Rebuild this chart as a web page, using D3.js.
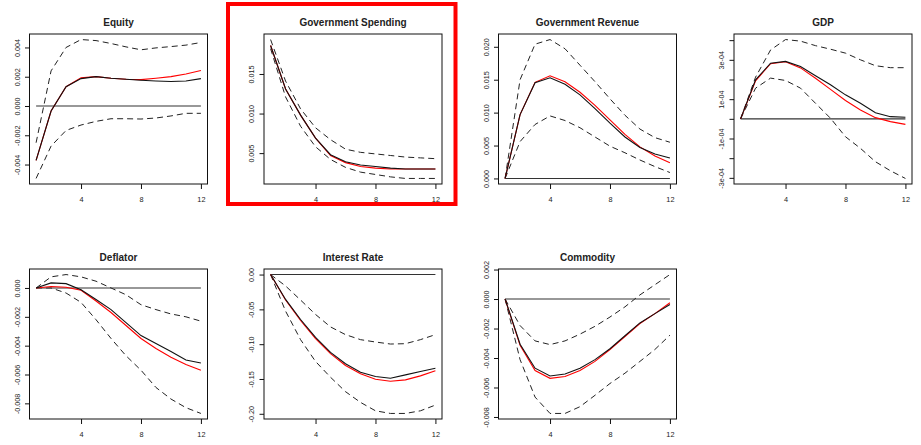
<!DOCTYPE html>
<html>
<head>
<meta charset="utf-8">
<script src="https://cdn.jsdelivr.net/npm/d3@7"></script>
<style>
  html, body { margin: 0; padding: 0; background: #fff; }
  svg { display: block; font-family: "Liberation Sans", Arial, sans-serif; }
</style>
</head>
<body>
<svg id="chart" width="921" height="445"></svg>
<script>
// Impulse responses over 12 horizons: point response (black), alternative (red),
// and lower/upper bands (dashed) for each variable.
const horizons = [1, 2, 3, 4, 5, 6, 7, 8, 9, 10, 11, 12];
const titles = ["Equity", "Government Spending", "Government Revenue", "GDP",
                "Deflator", "Interest Rate", "Commodity"];
const xTicks = [4, 8, 12];

const equityMain  = [-0.00372, -0.00034, 0.00132, 0.00187, 0.00201, 0.00190, 0.00183, 0.00176, 0.00171, 0.00167, 0.00171, 0.00187];
const equityAlt   = [-0.00372, -0.00034, 0.00132, 0.00192, 0.00201, 0.00190, 0.00183, 0.00180, 0.00190, 0.00201, 0.00219, 0.00242];
const equityLower = [-0.00495, -0.00274, -0.00167, -0.00130, -0.00105, -0.00087, -0.00087, -0.00089, -0.00082, -0.00068, -0.00050, -0.00050];
const equityUpper = [-0.00251, 0.00240, 0.00400, 0.00454, 0.00447, 0.00427, 0.00404, 0.00384, 0.00397, 0.00406, 0.00416, 0.00434];

const spendMain  = [0.0186, 0.0131, 0.0098, 0.0069, 0.0048, 0.0039, 0.0035, 0.0033, 0.0031, 0.0030, 0.0030, 0.0030];
const spendAlt   = [0.0186, 0.0131, 0.0098, 0.0069, 0.0047, 0.0038, 0.0033, 0.0031, 0.0030, 0.0030, 0.0030, 0.0030];
const spendLower = [0.0182, 0.0121, 0.0084, 0.0058, 0.0042, 0.0032, 0.0026, 0.0023, 0.0020, 0.0018, 0.0018, 0.0018];
const spendUpper = [0.01935, 0.0141, 0.0106, 0.0082, 0.0067, 0.0055, 0.0051, 0.0049, 0.0047, 0.0045, 0.0044, 0.0043];

const revenueMain  = [0, 0.0097, 0.01455, 0.0153, 0.0143, 0.0127, 0.0106, 0.0084, 0.0063, 0.0047, 0.0037, 0.0031];
const revenueAlt   = [0, 0.0097, 0.0146, 0.0156, 0.0147, 0.0131, 0.0111, 0.0089, 0.0067, 0.0048, 0.0034, 0.0024];
const revenueLower = [0, 0.0056, 0.0082, 0.0095, 0.0088, 0.0077, 0.0063, 0.0049, 0.0039, 0.0028, 0.0018, 0.0009];
const revenueUpper = [0, 0.0150, 0.0204, 0.0211, 0.0197, 0.0172, 0.0147, 0.0121, 0.0096, 0.0075, 0.0062, 0.0055];

const gdpMain  = [0, 1.98e-4, 2.83e-4, 2.92e-4, 2.66e-4, 2.19e-4, 1.73e-4, 1.22e-4, 0.79e-4, 0.31e-4, 0.11e-4, 0.08e-4];
const gdpAlt   = [0, 1.93e-4, 2.80e-4, 2.90e-4, 2.59e-4, 2.06e-4, 1.50e-4, 0.93e-4, 0.45e-4, 0.06e-4, -0.14e-4, -0.28e-4];
const gdpLower = [0, 1.56e-4, 2.07e-4, 1.95e-4, 1.56e-4, 0.79e-4, 0.03e-4, -0.91e-4, -1.50e-4, -2.18e-4, -2.64e-4, -3.03e-4];
const gdpUpper = [0, 2.12e-4, 3.50e-4, 4.03e-4, 3.95e-4, 3.72e-4, 3.54e-4, 3.34e-4, 3.00e-4, 2.70e-4, 2.60e-4, 2.60e-4];

const deflatorMain  = [0, 0.00035, 0.00030, -0.00012, -0.00080, -0.00150, -0.00240, -0.00330, -0.00385, -0.00440, -0.00500, -0.00520];
const deflatorAlt   = [0, 0.00010, 0.00005, -0.00016, -0.00090, -0.00170, -0.00260, -0.00350, -0.00420, -0.00480, -0.00530, -0.00570];
const deflatorLower = [0, 0, -0.00035, -0.00100, -0.00220, -0.00350, -0.00470, -0.00570, -0.00690, -0.00770, -0.00830, -0.00870];
const deflatorUpper = [0, 0.00077, 0.00093, 0.00077, 0.00047, 0, -0.00047, -0.00116, -0.00150, -0.00180, -0.00200, -0.00230];

const rateMain  = [0, -0.0357, -0.0646, -0.0901, -0.1118, -0.1282, -0.1402, -0.1465, -0.1489, -0.1441, -0.1393, -0.1345];
const rateAlt   = [0, -0.0366, -0.0660, -0.0920, -0.1137, -0.1306, -0.1426, -0.1503, -0.1532, -0.1513, -0.1455, -0.1383];
const rateLower = [0, -0.0525, -0.0935, -0.1248, -0.1475, -0.1682, -0.1836, -0.1957, -0.1995, -0.1995, -0.1957, -0.1875];
const rateUpper = [0, -0.0164, -0.0366, -0.0573, -0.0752, -0.0863, -0.0935, -0.0969, -0.0998, -0.0993, -0.0935, -0.0863];

const commodityMain  = [0, -0.00307, -0.00469, -0.00522, -0.00508, -0.00469, -0.00411, -0.00337, -0.00249, -0.00162, -0.00099, -0.00037];
const commodityAlt   = [0, -0.00314, -0.00485, -0.00538, -0.00526, -0.00485, -0.00423, -0.00342, -0.00254, -0.00166, -0.00099, -0.00025];
const commodityLower = [0, -0.00411, -0.00665, -0.00776, -0.00776, -0.00730, -0.00653, -0.00573, -0.00503, -0.00423, -0.00342, -0.00245];
const commodityUpper = [0, -0.00180, -0.00284, -0.00309, -0.00284, -0.00238, -0.00185, -0.00122, -0.00053, 0.00028, 0.00097, 0.00166];

// y-axis ticks and their labels ("" = tick without label)
const equityTicks = [-0.004, -0.002, 0, 0.002, 0.004];
const equityTickLabels = ["-0.004", "-0.002", "0.000", "0.002", "0.004"];
const spendTicks = [0.005, 0.010, 0.015];
const spendTickLabels = ["0.005", "0.010", "0.015"];
const revenueTicks = [0, 0.005, 0.010, 0.015, 0.020];
const revenueTickLabels = ["0.000", "0.005", "0.010", "0.015", "0.020"];
const gdpTicks = [-3e-4, -2e-4, -1e-4, 0, 1e-4, 2e-4, 3e-4, 4e-4];
const gdpTickLabels = ["-3e-04", "", "-1e-04", "", "1e-04", "", "3e-04", ""];
const deflatorTicks = [-0.008, -0.006, -0.004, -0.002, 0];
const deflatorTickLabels = ["-0.008", "-0.006", "-0.004", "-0.002", "0.000"];
const rateTicks = [-0.20, -0.15, -0.10, -0.05, 0];
const rateTickLabels = ["-0.20", "-0.15", "-0.10", "-0.05", "0.00"];
const commodityTicks = [-0.008, -0.006, -0.004, -0.002, 0, 0.002];
const commodityTickLabels = ["-0.008", "-0.006", "-0.004", "-0.002", "0.000", "0.002"];

const panels = [
  { title: titles[0], main: equityMain, alt: equityAlt, lo: equityLower, hi: equityUpper, ticks: equityTicks, labels: equityTickLabels },
  { title: titles[1], main: spendMain, alt: spendAlt, lo: spendLower, hi: spendUpper, ticks: spendTicks, labels: spendTickLabels },
  { title: titles[2], main: revenueMain, alt: revenueAlt, lo: revenueLower, hi: revenueUpper, ticks: revenueTicks, labels: revenueTickLabels },
  { title: titles[3], main: gdpMain, alt: gdpAlt, lo: gdpLower, hi: gdpUpper, ticks: gdpTicks, labels: gdpTickLabels },
  { title: titles[4], main: deflatorMain, alt: deflatorAlt, lo: deflatorLower, hi: deflatorUpper, ticks: deflatorTicks, labels: deflatorTickLabels },
  { title: titles[5], main: rateMain, alt: rateAlt, lo: rateLower, hi: rateUpper, ticks: rateTicks, labels: rateTickLabels },
  { title: titles[6], main: commodityMain, alt: commodityAlt, lo: commodityLower, hi: commodityUpper, ticks: commodityTicks, labels: commodityTickLabels }
];

const svg = d3.select("#chart");
svg.append("rect").attr("width", 921).attr("height", 445).attr("fill", "#fff");

const plotW = 178, plotH = 150;
const colX = [29.5, 264, 498.5, 734];
const rowY = [34, 269];

// pad a [min, max] range by 4% on each side
function padded(lo, hi) {
  const d = (hi - lo) * 0.04;
  return [lo - d, hi + d];
}

panels.forEach((p, i) => {
  const left = colX[i % 4], top = rowY[Math.floor(i / 4)];
  const g = svg.append("g").attr("transform", `translate(${left},${top})`);

  const x = d3.scaleLinear().domain(padded(1, 12)).range([0, plotW]);
  const all = p.main.concat(p.alt, p.lo, p.hi);
  const y = d3.scaleLinear().domain(padded(d3.min(all), d3.max(all))).range([plotH, 0]);

  const line = d3.line().x((d, k) => x(horizons[k])).y(d => y(d));

  // bands
  [p.lo, p.hi].forEach(s => {
    g.append("path").attr("d", line(s)).attr("fill", "none")
      .attr("stroke", "#222").attr("stroke-width", 1).attr("stroke-dasharray", "6,4");
  });
  // zero reference
  g.append("line")
    .attr("x1", x(1)).attr("x2", x(12)).attr("y1", y(0)).attr("y2", y(0))
    .attr("stroke", "#333").attr("stroke-width", 1.1);
  g.select("line").attr("display", y(0) >= 0 && y(0) <= plotH ? null : "none");
  // responses
  g.append("path").attr("d", line(p.alt)).attr("fill", "none")
    .attr("stroke", "#ff0000").attr("stroke-width", 1.1);
  g.append("path").attr("d", line(p.main)).attr("fill", "none")
    .attr("stroke", "#111").attr("stroke-width", 1.1);

  // frame
  g.append("rect").attr("x", 0).attr("y", 0).attr("width", plotW).attr("height", plotH)
    .attr("fill", "none").attr("stroke", "#111").attr("stroke-width", 1);

  // x axis
  const xa = g.append("g").attr("transform", `translate(0,${plotH})`)
    .call(d3.axisBottom(x).tickValues(xTicks).tickSize(5).tickPadding(3).tickFormat(d3.format("d")));
  xa.select(".domain").remove();
  xa.selectAll("line").attr("stroke", "#111");
  xa.selectAll("text").attr("font-size", "7.3px").attr("fill", "#222").attr("dy", null).attr("y", 18);

  // y axis with rotated labels
  const ya = g.append("g")
    .call(d3.axisLeft(y).tickValues(p.ticks).tickSize(4.5).tickFormat((d, k) => p.labels[k]));
  ya.select(".domain").remove();
  ya.selectAll("line").attr("stroke", "#111");
  ya.selectAll("text")
    .attr("transform", "rotate(-90)")
    .attr("x", 0).attr("y", -10).attr("dy", null)
    .attr("text-anchor", "middle")
    .attr("font-size", "7.2px").attr("fill", "#222");

  // title
  g.append("text").attr("x", plotW / 2).attr("y", -8)
    .attr("text-anchor", "middle").attr("font-size", "10px").attr("font-weight", "bold")
    .attr("fill", "#222").text(p.title);
});

// highlight frame around the spending panel
svg.append("rect").attr("x", 228).attr("y", 4).attr("width", 227.5).attr("height", 200)
  .attr("fill", "none").attr("stroke", "#ff0000").attr("stroke-width", 4);
</script>
</body>
</html>
